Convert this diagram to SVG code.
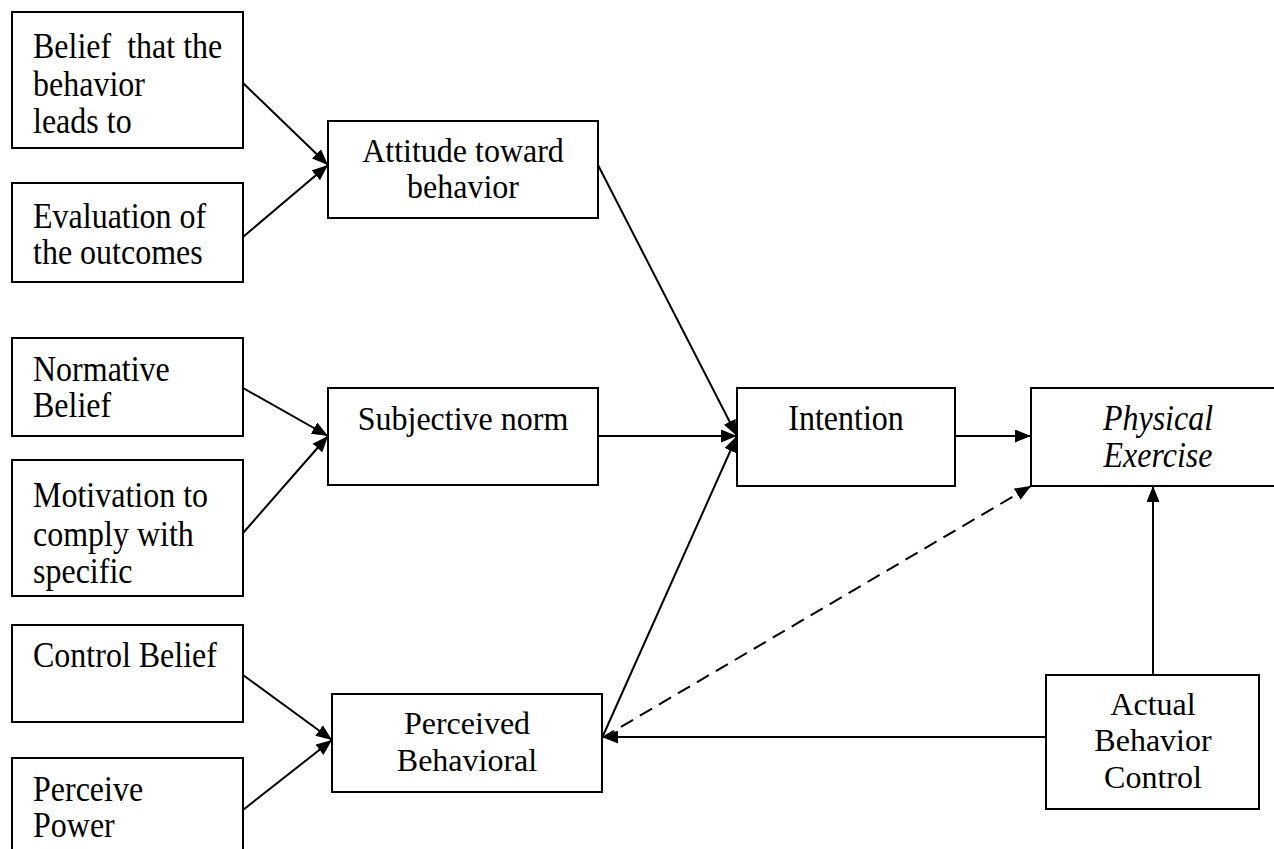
<svg xmlns="http://www.w3.org/2000/svg" width="1274" height="849" viewBox="0 0 1274 849">
<style>
.box{fill:#fff;stroke:#000;stroke-width:2}
.t{font-family:"Liberation Serif","Times New Roman",serif;font-size:32px;fill:#000}
.c{text-anchor:middle}
.i{font-style:italic}
.ln{fill:none;stroke:#000;stroke-width:2}
.dash{stroke-dasharray:14 8}
</style>
<defs>
<marker id="arr" markerUnits="userSpaceOnUse" markerWidth="17" markerHeight="13" refX="16" refY="6.5" orient="auto">
<path d="M0,0 L16,6.5 L0,13 z" fill="#000"/>
</marker>
</defs>
<rect width="1274" height="849" fill="#fff"/>

<g id="belief">
<rect class="box" x="12" y="12" width="231" height="136"/>
<text class="t" xml:space="preserve" transform="translate(33,58) scale(1,1.12)"><tspan x="0" y="0">Belief  that the</tspan><tspan x="0" y="33.5">behavior</tspan><tspan x="0" y="67">leads to</tspan></text>
</g>
<g id="evaluation">
<rect class="box" x="12" y="183" width="231" height="99"/>
<text class="t" transform="translate(33,228) scale(1,1.12)"><tspan x="0" y="0">Evaluation of</tspan><tspan x="0" y="32.14">the outcomes</tspan></text>
</g>
<g id="normative">
<rect class="box" x="12" y="338" width="231" height="98"/>
<text class="t" transform="translate(33,381) scale(1,1.12)"><tspan x="0" y="0">Normative</tspan><tspan x="0" y="32.14">Belief</tspan></text>
</g>
<g id="motivation">
<rect class="box" x="12" y="460" width="231" height="136"/>
<text class="t" transform="translate(33,507) scale(1,1.12)"><tspan x="0" y="0">Motivation to</tspan><tspan x="0" y="34.38">comply with</tspan><tspan x="0" y="67.86">specific</tspan></text>
</g>
<g id="control-belief">
<rect class="box" x="12" y="625" width="231" height="97"/>
<text class="t" transform="translate(33,667) scale(1,1.12)"><tspan x="0" y="0">Control Belief</tspan></text>
</g>
<g id="perceive-power">
<rect class="box" x="12" y="758" width="231" height="110"/>
<text class="t" transform="translate(33,801) scale(1,1.12)"><tspan x="0" y="0">Perceive</tspan><tspan x="0" y="32.14">Power</tspan></text>
</g>

<g id="attitude">
<rect class="box" x="328" y="121" width="270" height="97"/>
<text class="t c" transform="translate(463,162) scale(1,1.05)"><tspan x="0" y="0">Attitude toward</tspan><tspan x="0" y="34.29">behavior</tspan></text>
</g>
<g id="subjective-norm">
<rect class="box" x="328" y="388" width="270" height="97"/>
<text class="t c" transform="translate(463,430) scale(1,1.05)"><tspan x="0" y="0">Subjective norm</tspan></text>
</g>
<g id="perceived-behavioral">
<rect class="box" x="332" y="694" width="270" height="98"/>
<text class="t c" x="467" y="734">Perceived</text>
<text class="t c" x="467" y="771">Behavioral</text>
</g>
<g id="intention">
<rect class="box" x="737" y="388" width="218" height="98"/>
<text class="t c" transform="translate(846,430) scale(1,1.12)"><tspan x="0" y="0">Intention</tspan></text>
</g>
<g id="physical-exercise">
<rect class="box" x="1031" y="388" width="260" height="98"/>
<text class="t c i" transform="translate(1158,430) scale(1,1.12)"><tspan x="0" y="0">Physical</tspan><tspan x="0" y="33.04">Exercise</tspan></text>
</g>
<g id="actual-behavior-control">
<rect class="box" x="1046" y="675" width="213" height="134"/>
<text class="t c" x="1153" y="715">Actual</text>
<text class="t c" x="1153" y="751">Behavior</text>
<text class="t c" x="1153" y="788">Control</text>
</g>

<g id="connectors">
<line class="ln" x1="243" y1="83" x2="328" y2="165" marker-end="url(#arr)"/>
<line class="ln" x1="243" y1="237" x2="328" y2="165" marker-end="url(#arr)"/>
<line class="ln" x1="243" y1="388" x2="328" y2="436" marker-end="url(#arr)"/>
<line class="ln" x1="243" y1="533" x2="328" y2="436" marker-end="url(#arr)"/>
<line class="ln" x1="243" y1="675" x2="332" y2="740" marker-end="url(#arr)"/>
<line class="ln" x1="243" y1="810" x2="332" y2="740" marker-end="url(#arr)"/>
<line class="ln" x1="598" y1="165" x2="737" y2="436" marker-end="url(#arr)"/>
<line class="ln" x1="598" y1="436" x2="737" y2="436" marker-end="url(#arr)"/>
<line class="ln" x1="602" y1="738" x2="737" y2="436" marker-end="url(#arr)"/>
<line class="ln" x1="955" y1="436" x2="1031" y2="436" marker-end="url(#arr)"/>
<line class="ln dash" x1="602" y1="738" x2="1031" y2="486" marker-end="url(#arr)"/>
<line class="ln" x1="1046" y1="737" x2="602" y2="737" marker-end="url(#arr)"/>
<line class="ln" x1="1153" y1="675" x2="1153" y2="486" marker-end="url(#arr)"/>
</g>
</svg>
